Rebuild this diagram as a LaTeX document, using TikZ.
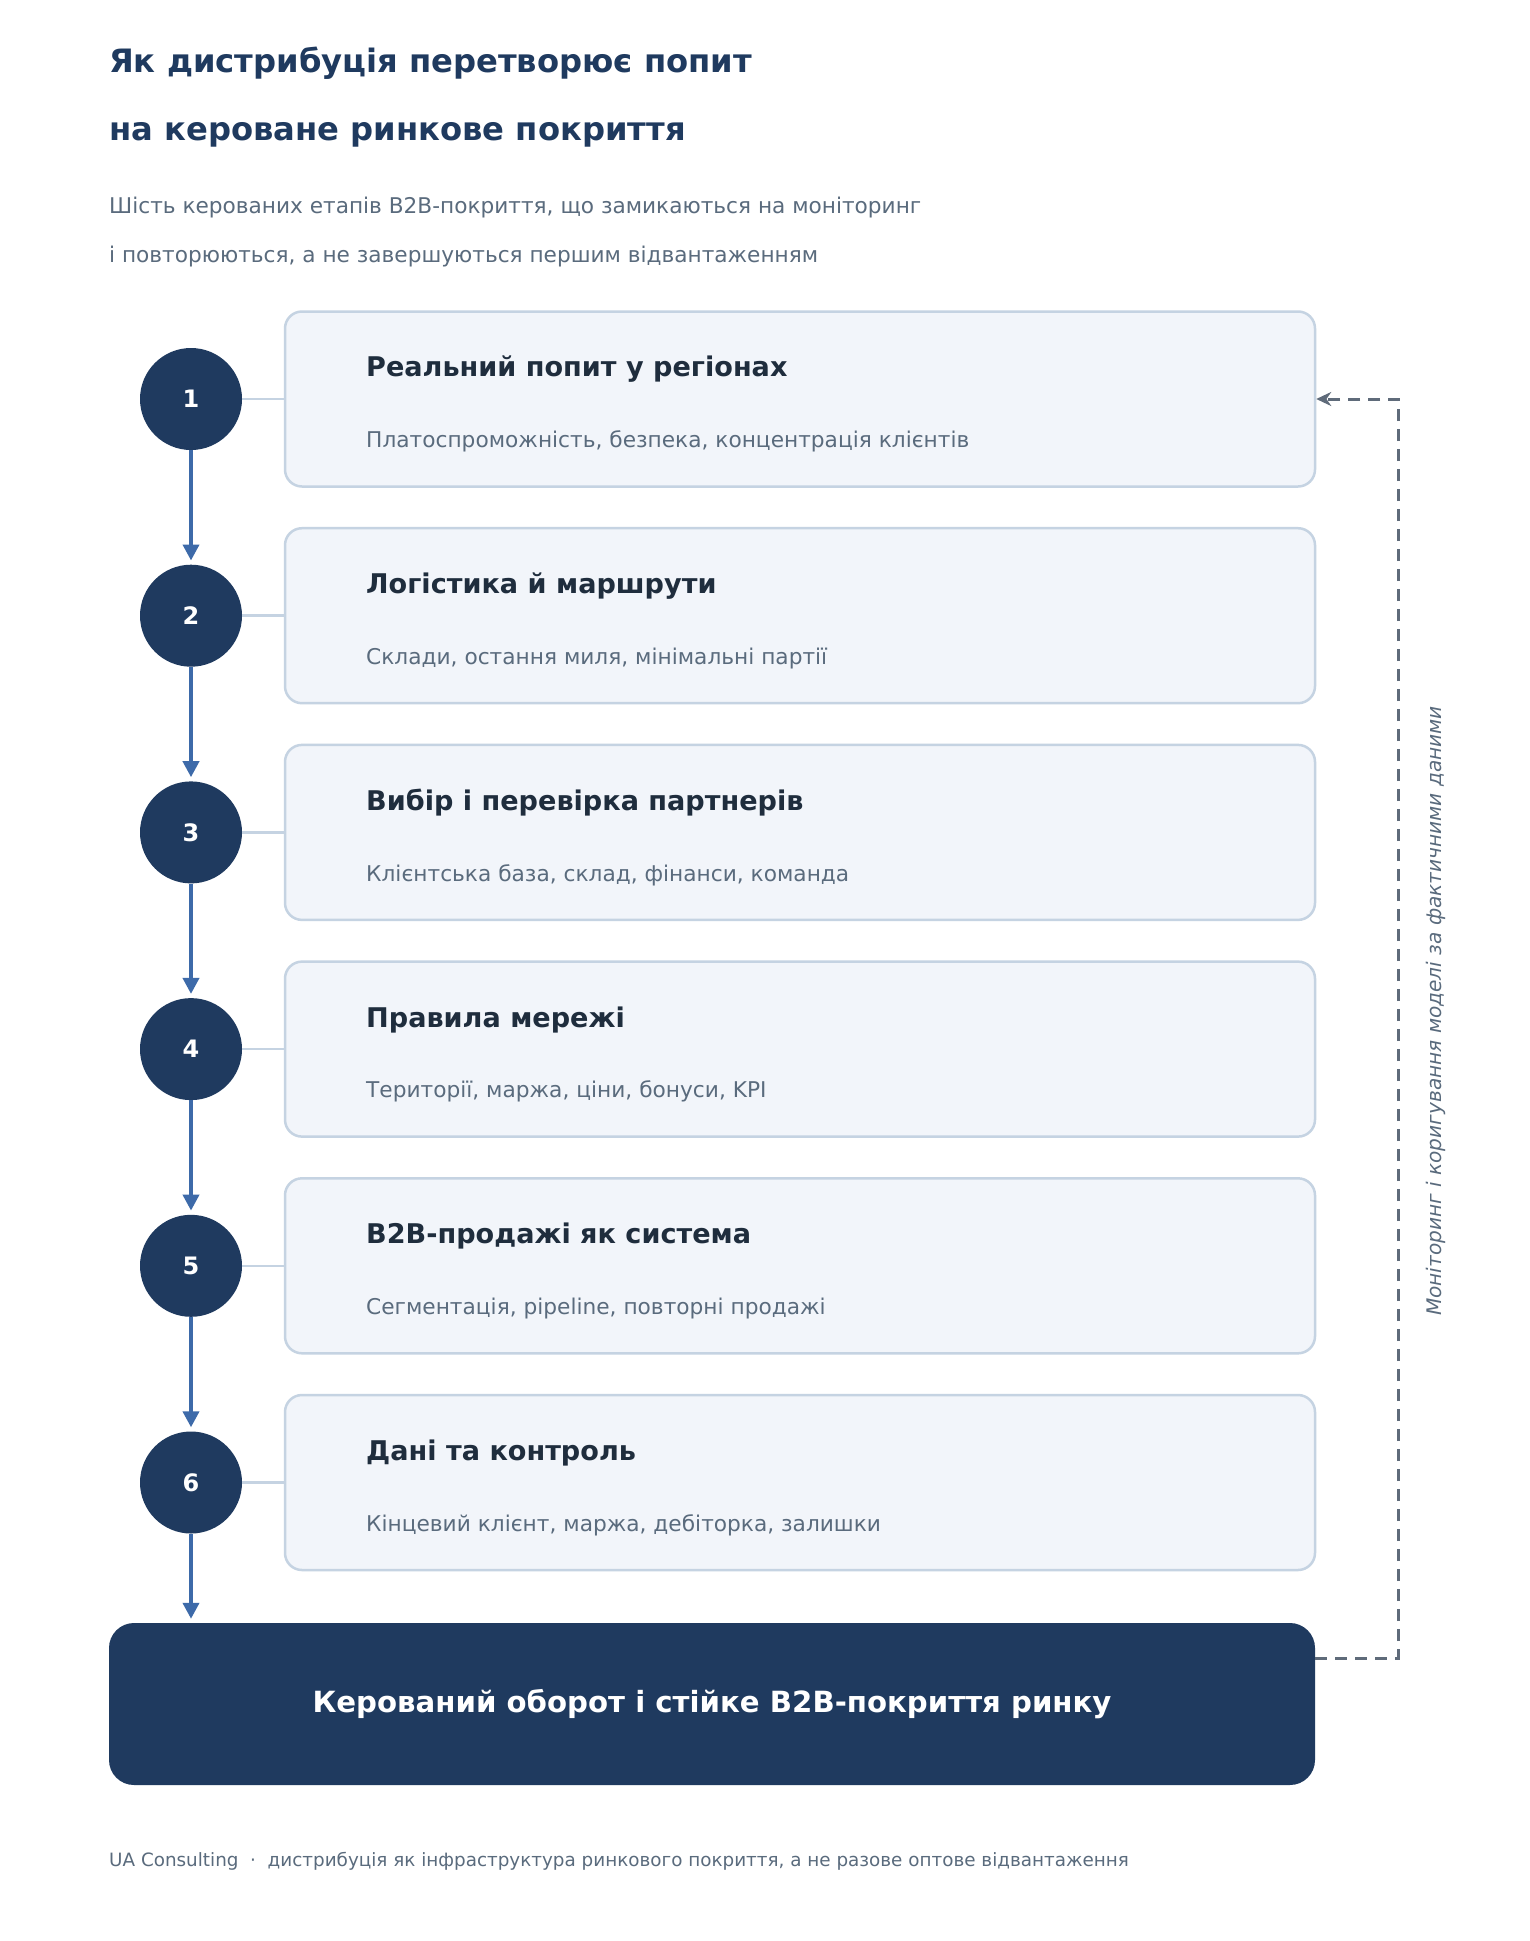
\documentclass[tikz,border=0pt]{standalone}
\usepackage{fontspec}
\setmainfont{DejaVu Sans}
\usetikzlibrary{arrows.meta}
\definecolor{navy}{HTML}{1F3A5F}
\definecolor{boxfill}{HTML}{F2F5FA}
\definecolor{boxline}{HTML}{C5D3E2}
\definecolor{headtxt}{HTML}{1F2D3D}
\definecolor{graytxt}{HTML}{5A6B7D}
\definecolor{flowblue}{HTML}{3D6AA9}
\definecolor{dashgray}{HTML}{5F6B7A}
\tikzset{
  stepbox/.style={draw=boxline, line width=2.5pt, fill=boxfill, rounded corners=17pt,
    minimum width=1030pt, minimum height=175pt, inner sep=0pt},
  circ/.style={circle, fill=navy, minimum size=102pt, inner sep=0pt, text=white,
    font=\fontsize{24}{28}\selectfont\bfseries},
  boxtitle/.style={anchor=west, text=headtxt, inner sep=0pt, font=\fontsize{27.1}{31}\selectfont\bfseries},
  boxsub/.style={anchor=west, text=graytxt, inner sep=0pt, font=\fontsize{21.7}{25}\selectfont},
  link/.style={draw=boxline, line width=2.5pt},
  flow/.style={draw=flowblue, line width=3.8pt, shorten >=4pt, -{Triangle[length=16pt,width=16pt]}},
  fb/.style={draw=dashgray, line width=3pt, dash pattern=on 12pt off 8pt, -{Stealth[length=15pt,width=14pt]}},
  final/.style={fill=navy, rounded corners=25pt, minimum width=1206pt, minimum height=162pt,
    text=white, font=\fontsize{29.2}{34}\selectfont\bfseries},
}
\begin{document}
\begin{tikzpicture}[x=1pt,y=-1pt]
\useasboundingbox[fill=white] (0,0) rectangle (1529,1941);

% header
\node[anchor=west, inner sep=0pt, text=navy, font=\fontsize{32.2}{38}\selectfont\bfseries] (t1) at (109,63.5) {Як дистрибуція перетворює попит};
\node[anchor=west, inner sep=0pt, text=navy, font=\fontsize{32.2}{38}\selectfont\bfseries] (t2) at (109,135) {на кероване ринкове покриття};
\node[anchor=west, inner sep=0pt, text=graytxt, font=\fontsize{21.65}{25}\selectfont] (s1) at (109,207.5) {Шість керованих етапів B2B-покриття, що замикаються на моніторинг};
\node[anchor=west, inner sep=0pt, text=graytxt, font=\fontsize{21.65}{25}\selectfont] (s2) at (109,256.5) {і повторюються, а не завершуються першим відвантаженням};

% steps
\foreach \i/\tt/\ss in {
  1/{Реальний попит у регіонах}/{Платоспроможність, безпека, концентрація клієнтів},
  2/{Логістика й маршрути}/{Склади, остання миля, мінімальні партії},
  3/{Вибір і перевірка партнерів}/{Клієнтська база, склад, фінанси, команда},
  4/{Правила мережі}/{Території, маржа, ціни, бонуси, KPI},
  5/{B2B-продажі як система}/{Сегментація, pipeline, повторні продажі},
  6/{Дані та контроль}/{Кінцевий клієнт, маржа, дебіторка, залишки}}{
  \pgfmathsetmacro{\yy}{399+216.7*(\i-1)}
  \node[stepbox] (b\i) at (800,\yy) {};
  \node[boxtitle] (bt\i) at (366,\yy-29.5) {\tt};
  \node[boxsub] (bs\i) at (366,\yy+42.5) {\ss};
  \node[circ] (c\i) at (191,\yy) {\i};
  \draw[link] (c\i.east) -- (b\i.west);
}

% final box
\node[final] (fin) at (712,1704) {Керований оборот і стійке B2B-покриття ринку};

% flow arrows
\foreach \a/\b in {1/2,2/3,3/4,4/5,5/6}{
  \draw[flow] (c\a.south) -- (c\b.north);
}
\draw[flow] (c6.south) -- (c6.south |- fin.north);

% feedback loop
\coordinate (fs) at (1315,1658);
\coordinate (fc) at (1398,1658);
\coordinate (ft) at (1398,399);
\draw[fb] (fs) -- (fc) -- (ft) -- (b1.east);
\node[rotate=90, inner sep=0pt, text=graytxt, font=\fontsize{20.1}{24}\selectfont\itshape] (fl) at (1436,1011) {Моніторинг і коригування моделі за фактичними даними};

% footer
\node[anchor=west, inner sep=0pt, text=graytxt, font=\fontsize{18.35}{22}\selectfont] (ft1) at (109,1861) {UA Consulting \ · \ дистрибуція як інфраструктура ринкового покриття, а не разове оптове відвантаження};
\end{tikzpicture}
\end{document}
